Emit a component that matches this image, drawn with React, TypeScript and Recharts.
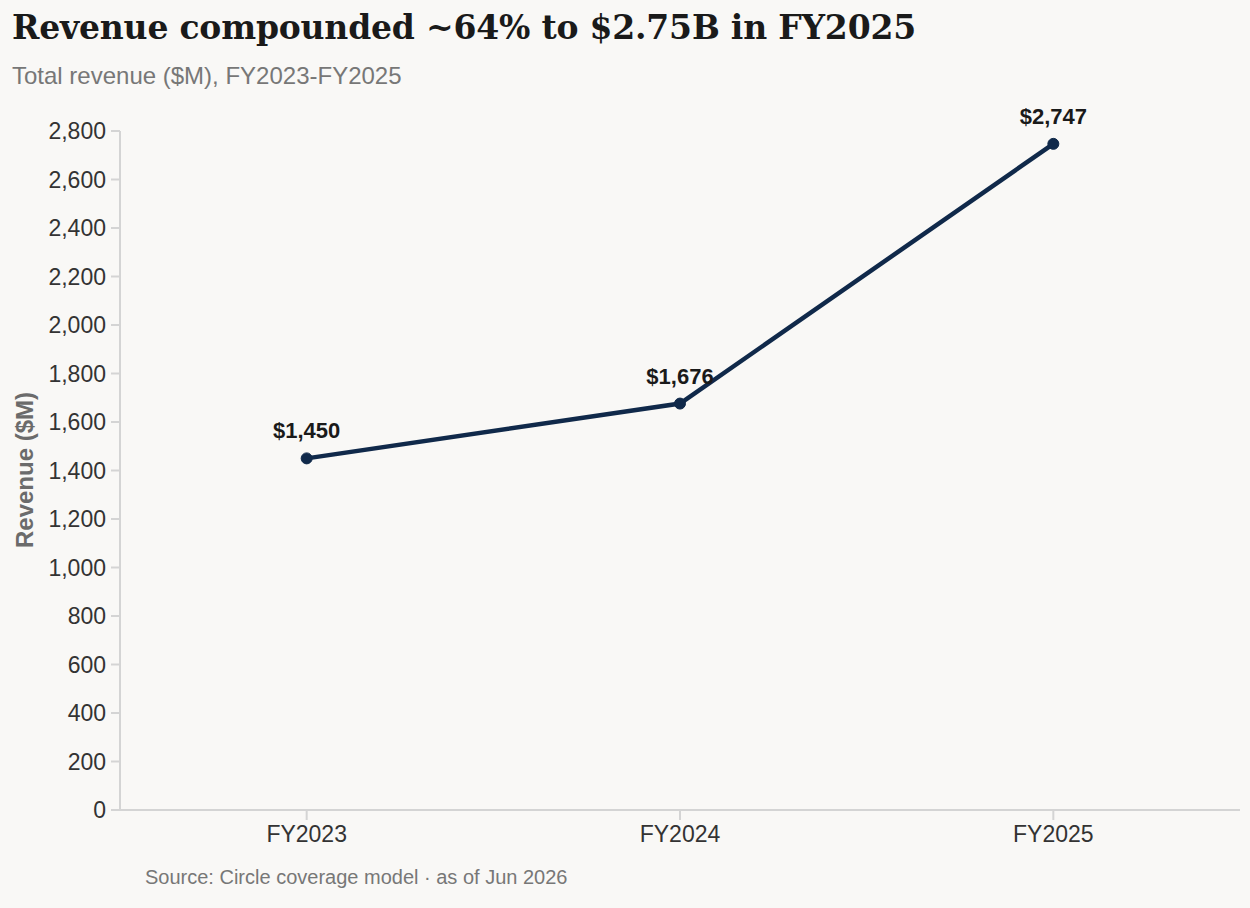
import React from "react";
import { LineChart, Line, XAxis, YAxis, LabelList } from "recharts";

// Fiscal years and total revenue in $M
const fiscalYears = ["FY2023", "FY2024", "FY2025"];
const revenueM = [1450, 1676, 2747];
const yTicks = [0, 200, 400, 600, 800, 1000, 1200, 1400, 1600, 1800, 2000, 2200, 2400, 2600, 2800];

const data = fiscalYears.map((year, i) => ({ year, revenue: revenueM[i] }));

const SANS = "'Liberation Sans', Arial, Helvetica, sans-serif";
const SERIF = "'DejaVu Serif', Georgia, serif";
const BG = "#f9f8f6";
const AXIS = "#d4d4d4";
const LINE = "#10294a";

const fmt = (v: number) => v.toLocaleString("en-US");

const YAxisTitle = () => (
  <text
    x={0}
    y={0}
    transform="translate(33, 470) rotate(-90)"
    textAnchor="middle"
    fontFamily={SANS}
    fontSize={24}
    fontWeight={700}
    fill="#6b6b6b"
  >
    Revenue ($M)
  </text>
);

// Half a category band on each side so the points sit in band centres
const HALF_BAND = 1120 / 6;

export default function App() {
  return (
    <div
      style={{
        position: "absolute",
        left: 0,
        top: 0,
        width: 1250,
        height: 908,
        background: BG,
        overflow: "hidden",
      }}
    >
      <div
        style={{
          position: "absolute",
          left: 12,
          top: 8,
          fontFamily: SERIF,
          fontWeight: 700,
          fontSize: 33,
          color: "#1a1a1a",
          whiteSpace: "nowrap",
          letterSpacing: -0.2,
        }}
      >
        Revenue compounded ~64% to $2.75B in FY2025
      </div>
      <div
        style={{
          position: "absolute",
          left: 12,
          top: 62,
          fontFamily: SANS,
          fontSize: 24,
          color: "#777",
          whiteSpace: "nowrap",
        }}
      >
        Total revenue ($M), FY2023-FY2025
      </div>
      <div style={{ position: "absolute", left: 0, top: 0 }}>
        <LineChart
          width={1250}
          height={908}
          data={data}
          margin={{ top: 131, right: 10, bottom: 68, left: 0 }}
        >
          <XAxis
            dataKey="year"
            height={30}
            padding={{ left: HALF_BAND, right: HALF_BAND }}
            stroke={AXIS}
            strokeWidth={2}
            tickSize={10}
            tickMargin={6}
            tick={{ fill: "#333", fontSize: 23, fontFamily: SANS }}
            tickLine={{ stroke: AXIS, strokeWidth: 2 }}
          />
          <YAxis
            width={120}
            domain={[0, 2800]}
            ticks={yTicks}
            interval={0}
            tickFormatter={fmt}
            stroke={AXIS}
            strokeWidth={2}
            tickSize={9}
            tickMargin={5}
            tick={{ fill: "#333", fontSize: 23, fontFamily: SANS }}
            tickLine={{ stroke: AXIS, strokeWidth: 2 }}
            label={<YAxisTitle />}
          />
          {/* value labels, drawn beneath the revenue line */}
          <Line
            type="linear"
            dataKey="revenue"
            stroke="none"
            dot={false}
            activeDot={false}
            legendType="none"
            isAnimationActive={false}
          >
            <LabelList
              dataKey="revenue"
              position="top"
              offset={20}
              formatter={(v: number) => `$${fmt(v)}`}
              fill="#1a1a1a"
              fontFamily={SANS}
              fontSize={22}
              fontWeight={700}
            />
          </Line>
          <Line
            type="linear"
            dataKey="revenue"
            stroke={LINE}
            strokeWidth={4.5}
            dot={{ r: 5.5, fill: LINE, stroke: LINE, strokeWidth: 1 }}
            activeDot={false}
            isAnimationActive={false}
          />
        </LineChart>
      </div>
      <div
        style={{
          position: "absolute",
          left: 145,
          top: 866,
          fontFamily: SANS,
          fontSize: 20,
          color: "#777",
          whiteSpace: "nowrap",
        }}
      >
        Source: Circle coverage model · as of Jun 2026
      </div>
    </div>
  );
}
